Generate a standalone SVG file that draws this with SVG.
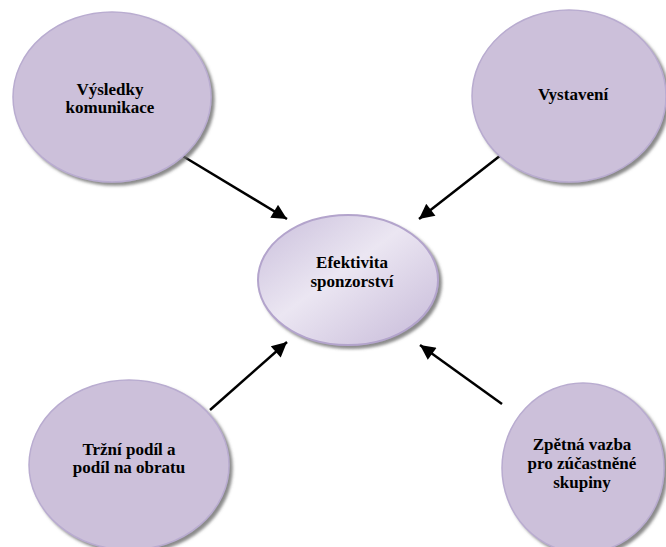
<svg xmlns="http://www.w3.org/2000/svg" width="666" height="547" viewBox="0 0 666 547">
<defs>
<filter id="sh" x="-10%" y="-10%" width="125%" height="125%">
<feGaussianBlur in="SourceAlpha" stdDeviation="1.5"/>
<feOffset dx="3" dy="3" result="b"/>
<feFlood flood-color="#6e6e6e" flood-opacity="0.8"/>
<feComposite in2="b" operator="in"/>
<feMerge><feMergeNode/><feMergeNode in="SourceGraphic"/></feMerge>
</filter>
<linearGradient id="cg" x1="0" y1="0" x2="1" y2="1">
<stop offset="0" stop-color="#c9bedb"/>
<stop offset="0.45" stop-color="#ebe6f2"/>
<stop offset="1" stop-color="#c6b9d8"/>
</linearGradient>
<marker id="ah" viewBox="0 0 10 10" refX="10" refY="5" markerWidth="7" markerHeight="6" markerUnits="strokeWidth" orient="auto">
<path d="M0,0 L10,5 L0,10 Z" fill="#000"/>
</marker>
</defs>
<style>
.n{fill:#ccc0da;stroke:#b9acd0;stroke-width:1.5;filter:url(#sh)}
.c{fill:url(#cg);stroke:#b3a4cc;stroke-width:2;filter:url(#sh)}
text{font-family:'Liberation Serif','Times New Roman','DejaVu Serif',serif;font-weight:700;font-size:17px;fill:#000;text-anchor:middle}
.e{stroke:#000;stroke-width:2.5;fill:none;marker-end:url(#ah)}
</style>
<rect width="666" height="547" fill="#fff"/>
<g id="edges">
<line class="e" x1="181" y1="155" x2="287" y2="219"/>
<line class="e" x1="501" y1="155" x2="419" y2="219"/>
<line class="e" x1="210" y1="410" x2="287" y2="342"/>
<line class="e" x1="502" y1="404" x2="420" y2="345"/>
</g>
<g id="n1">
<ellipse class="n" cx="112" cy="97" rx="99" ry="85"/>
<text x="110" y="95" font-family="Liberation Serif">Výsledky</text>
<text x="110" y="113" font-family="Liberation Serif">komunikace</text>
</g>
<g id="n2">
<ellipse class="n" cx="569" cy="96" rx="97" ry="86"/>
<text x="573" y="100" font-family="Liberation Serif">Vystavení</text>
</g>
<g id="center">
<ellipse class="c" cx="348" cy="280" rx="90" ry="65"/>
<text x="352" y="268" font-family="Liberation Serif">Efektivita</text>
<text x="352" y="287" font-family="Liberation Serif">sponzorství</text>
</g>
<g id="n3">
<ellipse class="n" cx="129" cy="465" rx="100" ry="85"/>
<text x="129" y="455" font-family="Liberation Serif">Tržní podíl a</text>
<text x="129" y="473" font-family="Liberation Serif">podíl na obratu</text>
</g>
<g id="n4">
<ellipse class="n" cx="583" cy="468" rx="81" ry="85"/>
<text x="582" y="450" font-family="Liberation Serif">Zpětná vazba</text>
<text x="582" y="469" font-family="Liberation Serif">pro zúčastněné</text>
<text x="582" y="488" font-family="Liberation Serif">skupiny</text>
</g>
</svg>
